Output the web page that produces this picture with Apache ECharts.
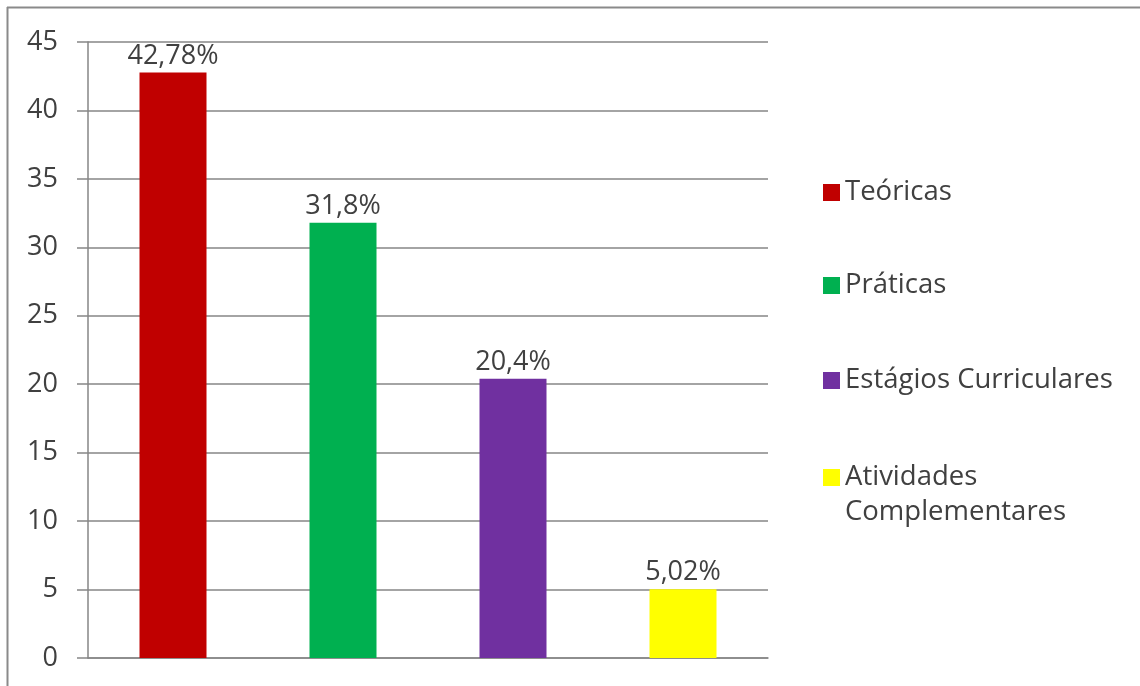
<!DOCTYPE html>
<html>
<head>
<meta charset="utf-8">
<script src="https://cdn.jsdelivr.net/npm/echarts@6/dist/echarts.min.js"></script>
<style>
html,body{margin:0;padding:0;background:#fff;}
#c{width:1140px;height:686px;}
</style>
</head>
<body>
<div id="c"></div>
<script>
const categories = ['Teóricas', 'Práticas', 'Estágios Curriculares', 'Atividades\nComplementares'];
const values = [42.78, 31.8, 20.4, 5.02];
const valueLabels = ['42,78%', '31,8%', '20,4%', '5,02%'];
const colors = ['#C00000', '#00B050', '#7030A0', '#FFFF00'];
const yTicks = { min: 0, max: 45, interval: 5 };

const FONT = 'Open Sans';
const TXT = '#404040';
const LINE = '#868686';

const series = categories.map((name, i) => ({
  name: name,
  type: 'bar',
  stack: 'all',
  barWidth: 67,
  itemStyle: { color: colors[i] },
  label: {
    show: true,
    position: 'top',
    distance: 3,
    color: TXT,
    fontFamily: FONT,
    fontSize: 27,
    formatter: () => valueLabels[i]
  },
  data: categories.map((c, j) => (j === i ? values[i] : null))
}));

const legendTops = [175, 268, 363, 425];
const legends = categories.map((name, i) => ({
  orient: 'vertical',
  left: 823,
  top: legendTops[i],
  padding: 0,
  itemWidth: 17,
  itemHeight: 17,
  itemGap: 0,
  icon: 'rect',
  selectedMode: false,
  data: [name],
  textStyle: { color: TXT, fontFamily: FONT, fontSize: 27.5, lineHeight: 35 },
  formatter: n => (i === 3 ? ' \n' + n : n)
}));

const chart = echarts.init(document.getElementById('c'));
chart.setOption({
  animation: false,
  backgroundColor: '#fff',
  grid: { left: 88, right: 372, top: 42, bottom: 28, containLabel: false },
  xAxis: {
    type: 'category',
    data: categories,
    axisLine: { show: true, lineStyle: { color: LINE, width: 1.5 } },
    axisTick: { show: false },
    axisLabel: { show: false },
    splitLine: { show: false }
  },
  yAxis: {
    type: 'value',
    min: yTicks.min,
    max: yTicks.max,
    interval: yTicks.interval,
    axisLine: { show: true, lineStyle: { color: LINE, width: 1.5 } },
    axisTick: { show: true, inside: false, length: 11, lineStyle: { color: LINE, width: 1.5 } },
    axisLabel: { color: TXT, fontFamily: FONT, fontSize: 27, margin: 30 },
    splitLine: { show: true, lineStyle: { color: LINE, width: 1.5 } }
  },
  legend: legends,
  graphic: [
    { type: 'line', shape: { x1: 7, y1: 7.5, x2: 1140, y2: 7.5 }, style: { stroke: '#8a8a8a', lineWidth: 2 } },
    { type: 'line', shape: { x1: 7.5, y1: 7, x2: 7.5, y2: 686 }, style: { stroke: '#8a8a8a', lineWidth: 2 } }
  ],
  series: series
});
</script>
</body>
</html>
